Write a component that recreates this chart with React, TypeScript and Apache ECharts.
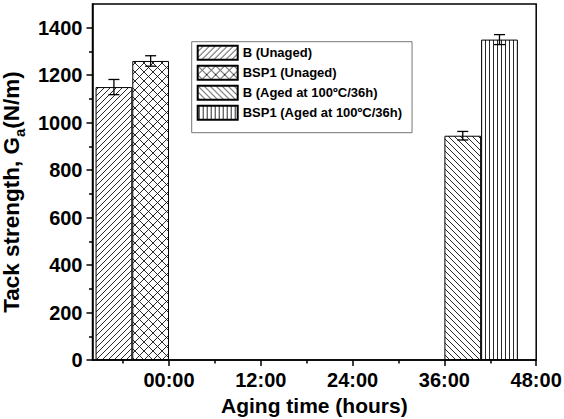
import React, { useEffect, useRef } from "react";
import * as echarts from "echarts";

const seriesNames = [
  "B (Unaged)",
  "BSP1 (Unaged)",
  "B (Aged at 100ºC/36h)",
  "BSP1 (Aged at 100ºC/36h)",
];
const barHours = [-7.2, -2.4, 38.4, 43.2];
const tackValues = [1150, 1260, 945, 1350];
const tackErrors = [32, 22, 18, 21];
const patternKinds = ["fwd", "cross", "back", "vert"];
const xMajorTicks = [0, 12, 24, 36, 48];
const xMinorTicks = [-6, 6, 18, 30, 42];
const yMajorTicks = [0, 200, 400, 600, 800, 1000, 1200, 1400];
const yMinorTicks = [100, 300, 500, 700, 900, 1100, 1300];

const FONT = '"Liberation Sans", Arial, Helvetica, sans-serif';

function makePattern(kind: string): any {
  const s = kind === "cross" ? 9 : kind === "vert" ? 4 : 6;
  const c = document.createElement("canvas");
  c.width = s;
  c.height = s;
  const ctx = c.getContext("2d")!;
  ctx.fillStyle = "#fff";
  ctx.fillRect(0, 0, s, s);
  ctx.strokeStyle = "#111";
  ctx.lineWidth = 0.9;
  ctx.beginPath();
  if (kind === "fwd" || kind === "cross") {
    for (const o of [-s, 0, s]) {
      ctx.moveTo(o, s);
      ctx.lineTo(o + s, 0);
    }
  }
  if (kind === "back" || kind === "cross") {
    for (const o of [-s, 0, s]) {
      ctx.moveTo(o, 0);
      ctx.lineTo(o + s, s);
    }
  }
  if (kind === "vert") {
    ctx.moveTo(1.5, 0);
    ctx.lineTo(1.5, s);
  }
  ctx.stroke();
  return { image: c, repeat: "repeat", imageWidth: s, imageHeight: s };
}

export default function App() {
  const ref = useRef<HTMLDivElement>(null);
  useEffect(() => {
    document.body.style.margin = "0";
    const chart = echarts.init(ref.current!, null, { renderer: "svg" });
    const axisLineStyle = { color: "#000", width: 1.5 };
    const labelStyle = {
      color: "#000",
      fontSize: 20,
      fontWeight: "bold" as const,
      fontFamily: FONT,
    };
    const nameStyle = {
      color: "#000",
      fontSize: 21,
      fontWeight: "bold" as const,
      fontFamily: FONT,
    };
    const yNameStyle = { ...nameStyle, fontSize: 22.5 };
    const bars = seriesNames.map((name, i) => ({
      type: "bar",
      name,
      xAxisIndex: 0,
      yAxisIndex: 0,
      barWidth: 36.7,
      barGap: "-100%",
      data: [[barHours[i], tackValues[i]]],
      itemStyle: {
        color: makePattern(patternKinds[i]),
        borderColor: "#000",
        borderWidth: 1,
      },
    }));
    const option: any = {
      animation: false,
      backgroundColor: "#fff",
      grid: {
        left: 92.5,
        right: 27.8,
        top: 4,
        bottom: 59,
        show: true,
        containLabel: false,
        outerBoundsMode: "none",
        borderColor: "#000",
        borderWidth: 1.5,
        backgroundColor: "transparent",
      },
      legend: {
        data: seriesNames,
        orient: "vertical",
        left: 191.7,
        top: 41.7,
        itemWidth: 40,
        itemHeight: 14,
        itemGap: 4,
        icon: "rect",
        selectedMode: false,
        borderColor: "#777",
        borderWidth: 1,
        padding: [3, 10, 12, 5],
        textStyle: {
          fontSize: 13,
          fontWeight: "bold",
          color: "#000",
          fontFamily: FONT,
        },
      },
      xAxis: [
        {
          type: "value",
          min: -10,
          max: 48,
          position: "bottom",
          axisLine: { show: true, onZero: false, lineStyle: axisLineStyle },
          axisTick: {
            show: true,
            length: 6,
            lineStyle: axisLineStyle,
            customValues: xMajorTicks,
          },
          axisLabel: {
            ...labelStyle,
            customValues: xMajorTicks,
            margin: 10,
            formatter: (v: number) => String(v).padStart(2, "0") + ":00",
          },
          splitLine: { show: false },
          name: "Aging time (hours)",
          nameLocation: "middle",
          nameGap: 33,
          nameTextStyle: nameStyle,
        },
        {
          type: "value",
          min: -10,
          max: 48,
          position: "bottom",
          axisLine: { show: false, onZero: false },
          axisTick: {
            show: true,
            length: 3.5,
            lineStyle: axisLineStyle,
            customValues: xMinorTicks,
          },
          axisLabel: { show: false },
          splitLine: { show: false },
        },
      ],
      yAxis: [
        {
          type: "value",
          min: 0,
          max: 1500,
          position: "left",
          axisLine: { show: true, onZero: false, lineStyle: axisLineStyle },
          axisTick: {
            show: true,
            length: 6,
            lineStyle: axisLineStyle,
            customValues: yMajorTicks,
          },
          axisLabel: {
            ...labelStyle,
            customValues: yMajorTicks,
            margin: 10,
            formatter: (v: number) => String(v),
          },
          splitLine: { show: false },
          name: "{n|Tack strength, G}{sub|a}{n|(N/m)}",
          nameLocation: "middle",
          nameGap: 59,
          nameRotate: 90,
          nameTextStyle: {
            ...yNameStyle,
            padding: [0, 20, 0, 0],
            rich: {
              n: { ...yNameStyle, lineHeight: 24, verticalAlign: "top" },
              sub: {
                ...yNameStyle,
                fontSize: 15,
                lineHeight: 15,
                padding: [12, 0, 0, 0],
                verticalAlign: "top",
              },
            },
          },
        },
        {
          type: "value",
          min: 0,
          max: 1500,
          position: "left",
          axisLine: { show: false, onZero: false },
          axisTick: {
            show: true,
            length: 3.5,
            lineStyle: axisLineStyle,
            customValues: yMinorTicks,
          },
          axisLabel: { show: false },
          splitLine: { show: false },
        },
      ],
      series: [
        ...bars,
        {
          type: "custom",
          name: "errors",
          xAxisIndex: 0,
          yAxisIndex: 0,
          z: 10,
          encode: { x: 0, y: 1 },
          data: barHours.map((h, i) => [h, tackValues[i], tackErrors[i]]),
          renderItem: (_p: any, api: any) => {
            const x = api.value(0);
            const y = api.value(1);
            const e = api.value(2);
            const top = api.coord([x, y + e]);
            const bot = api.coord([x, y - e]);
            const w = 5.5;
            const st = { stroke: "#000", lineWidth: 1.3 };
            return {
              type: "group",
              children: [
                { type: "line", shape: { x1: top[0], y1: top[1], x2: bot[0], y2: bot[1] }, style: st },
                { type: "line", shape: { x1: top[0] - w, y1: top[1], x2: top[0] + w, y2: top[1] }, style: st },
                { type: "line", shape: { x1: bot[0] - w, y1: bot[1], x2: bot[0] + w, y2: bot[1] }, style: st },
              ],
            };
          },
        },
      ],
    };
    chart.setOption(option);
    return () => chart.dispose();
  }, []);
  return <div ref={ref} style={{ width: 564, height: 419 }} />;
}
